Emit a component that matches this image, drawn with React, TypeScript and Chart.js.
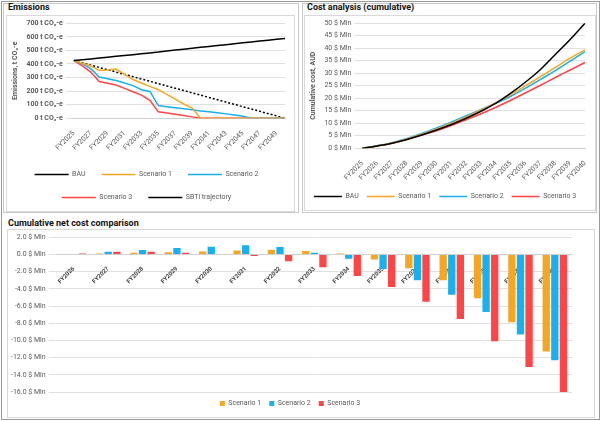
import React, { useEffect, useRef } from "react";
import { Chart, registerables } from "chart.js";
Chart.register(...registerables);

const emYears = Array.from({ length: 26 }, (_, i) => "FY" + (2025 + i));
const emBAU = [425,431,437,443,450,456,462,468,475,481,487,495,502,508,515,522,529,535,542,549,556,562,569,575,582,588];
const emS1 = [425,405,385,352,355,362,323,285,260,235,210,175,140,105,75,0,0,0,0,0,0,0,0,0,0,0];
const emS2 = [425,400,365,303,290,278,260,240,210,197,93,85,78,70,62,54,47,40,32,24,14,0,0,0,0,0];
const emS3 = [425,385,340,270,258,245,220,195,170,132,47,38,30,20,10,0,0,0,0,0,0,0,0,0,0,0];
const emSBTi = [425,408,391,374,357,340,323,306,289,272,255,238,221,204,187,170,153,136,119,102,85,68,51,34,17,0];

const costYears = Array.from({ length: 16 }, (_, i) => "FY" + (2025 + i));
const costBAU = [0,0.9,2,3.5,5.3,7.3,9.5,12,14.8,18,22,26.5,31.5,37.5,43.5,50];
const costS1 = [0,0.9,2.1,3.7,5.6,7.7,10,12.5,15.3,18.2,21.5,25,28.6,32.3,36,39.3];
const costS2 = [0,1,2.2,3.9,5.9,8.1,10.5,13,15.5,18,20.8,24,27.5,31,34.8,38.6];
const costS3 = [0,0.9,2,3.5,5.2,7,9.1,11.4,13.8,16.4,19.2,22.2,25.2,28.3,31.3,34.3];

const netYears = Array.from({ length: 15 }, (_, i) => "FY" + (2026 + i));
const netS1 = [0.05,0.1,0.2,0.25,0.35,0.45,0.55,0.4,0.1,-0.6,-1.6,-3.0,-5.1,-7.9,-11.3];
const netS2 = [0.05,0.3,0.5,0.75,0.9,1.05,0.85,0.2,-0.5,-1.7,-3.0,-4.7,-6.7,-9.3,-12.3];
const netS3 = [0.1,0.3,0.3,0.2,0.0,-0.2,-0.8,-1.5,-2.5,-3.8,-5.5,-7.5,-10.1,-13.1,-16.0];

const BLACK = "#000000", ORANGE = "#F5A623", BLUE = "#18B0EE", RED = "#FF4545";
const FONT = "Roboto";
const GRID = "#e0e0e0";
const TICK = "#595959";

function lineDs(label: string, data: number[], color: string, extra: any = {}) {
  return { label, data, borderColor: color, backgroundColor: color, borderWidth: 1.5, pointRadius: 0, ...extra };
}

function useChart(ref: any, cfg: () => any) {
  useEffect(() => {
    const c = new Chart(ref.current, cfg());
    return () => c.destroy();
  }, []);
}

const xRot = { maxRotation: 45, minRotation: 45, color: TICK, font: { family: FONT, size: 7 } };

export default function App() {
  const r1 = useRef<HTMLCanvasElement>(null);
  const r2 = useRef<HTMLCanvasElement>(null);
  const r3 = useRef<HTMLCanvasElement>(null);

  useChart(r1, () => ({
    type: "line",
    data: {
      labels: emYears,
      datasets: [
        lineDs("BAU", emBAU, BLACK),
        lineDs("Scenario 1", emS1, ORANGE),
        lineDs("Scenario 2", emS2, BLUE),
        lineDs("Scenario 3", emS3, RED),
        lineDs("SBTi trajectory", emSBTi, BLACK, { borderDash: [2, 2], borderWidth: 1.5 }),
      ],
    },
    options: {
      animation: false, responsive: false, maintainAspectRatio: false,
      layout: { padding: { right: 8, top: 2 } },
      plugins: {
        legend: { position: "bottom", labels: { usePointStyle: true, pointStyle: "line", pointStyleWidth: 34, boxHeight: 4, padding: 16, color: TICK, font: { family: FONT, size: 7 } } },
        tooltip: { enabled: false },
      },
      scales: {
        x: { grid: { display: false }, border: { color: "#d0d0d0" }, ticks: { ...xRot, autoSkip: false, callback: (v: any, i: number) => (i % 2 === 0 ? emYears[i] : "") } },
        y: {
          min: 0, max: 700, grid: { color: GRID }, border: { display: false },
          ticks: { stepSize: 100, color: TICK, font: { family: FONT, size: 7, weight: "bold" }, callback: (v: any) => v + " t CO₂-e" },
          title: { display: true, text: "Emissions, t CO₂-e", color: TICK, font: { family: FONT, size: 7, weight: "bold" } },
        },
      },
    },
  }));

  useChart(r2, () => ({
    type: "line",
    data: {
      labels: costYears,
      datasets: [
        lineDs("BAU", costBAU, BLACK, { tension: 0.4 }),
        lineDs("Scenario 1", costS1, ORANGE, { tension: 0.4 }),
        lineDs("Scenario 2", costS2, BLUE, { tension: 0.4 }),
        lineDs("Scenario 3", costS3, RED, { tension: 0.4 }),
      ],
    },
    options: {
      animation: false, responsive: false, maintainAspectRatio: false,
      layout: { padding: { right: 10, top: 2 } },
      plugins: {
        legend: { position: "bottom", labels: { usePointStyle: true, pointStyle: "line", pointStyleWidth: 28, boxHeight: 4, padding: 8, color: TICK, font: { family: FONT, size: 7 } } },
        tooltip: { enabled: false },
      },
      scales: {
        x: { grid: { display: false }, border: { color: "#d0d0d0" }, ticks: { ...xRot, autoSkip: false } },
        y: {
          min: 0, max: 50, grid: { color: GRID }, border: { display: false },
          ticks: { stepSize: 5, color: TICK, font: { family: FONT, size: 7 }, callback: (v: any) => v + " $ Mln" },
          title: { display: true, text: "Cumulative cost, AUD", color: TICK, font: { family: FONT, size: 7, weight: "bold" } },
        },
      },
    },
  }));

  useChart(r3, () => ({
    type: "bar",
    data: {
      labels: netYears,
      datasets: [
        { label: "Scenario 1", data: netS1, backgroundColor: ORANGE },
        { label: "Scenario 2", data: netS2, backgroundColor: BLUE },
        { label: "Scenario 3", data: netS3, backgroundColor: RED },
      ],
    },
    options: {
      animation: false, responsive: false, maintainAspectRatio: false,
      datasets: { bar: { categoryPercentage: 0.75, barPercentage: 0.85 } },
      layout: { padding: { right: 22, top: 4 } },
      plugins: {
        legend: { position: "bottom", labels: { boxWidth: 5, boxHeight: 5, padding: 8, color: TICK, font: { family: FONT, size: 7 } } },
        tooltip: { enabled: false },
      },
      scales: {
        x: {
          position: { y: 0 }, grid: { display: false }, border: { color: "#d0d0d0" },
          ticks: { maxRotation: 45, minRotation: 45, color: "#404040", font: { family: FONT, size: 6, weight: "bold" }, autoSkip: false },
        },
        y: {
          min: -16, max: 2, grid: { color: GRID }, border: { display: false },
          ticks: { stepSize: 2, color: TICK, font: { family: FONT, size: 7 }, callback: (v: any) => Number(v).toFixed(1) + " $ Mln" },
        },
      },
    },
  }));

  const title: React.CSSProperties = { position: "absolute", fontFamily: FONT, fontWeight: 700, fontSize: 9, color: "#111" };
  const box: React.CSSProperties = { position: "absolute", border: "1px solid #d9d9d9", background: "#fff" };
  return (
    <div style={{ position: "fixed", left: 0, top: 0, width: 601, height: 421, background: "#fff" }}>
      <div style={{ position: "absolute", left: 1, top: 1, width: 597, height: 417, border: "1px solid #9a9a9a" }} />
      <div style={{ position: "absolute", left: 3, top: 3, width: 294, height: 208, border: "1px solid #c8c8c8" }} />
      <div style={{ position: "absolute", left: 302, top: 3, width: 293, height: 208, border: "1px solid #c8c8c8" }} />
      <div style={{ ...title, left: 8, top: 2 }}>Emissions</div>
      <div style={{ ...title, left: 307, top: 2 }}>Cost analysis (cumulative)</div>
      <div style={{ ...title, left: 8, top: 218 }}>Cumulative net cost comparison</div>
      <div style={{ ...box, left: 6, top: 15, width: 287, height: 195 }}>
        <canvas ref={r1} width={287} height={195} />
      </div>
      <div style={{ ...box, left: 304, top: 15, width: 290, height: 194 }}>
        <canvas ref={r2} width={290} height={194} />
      </div>
      <div style={{ ...box, left: 7, top: 229, width: 586, height: 187 }}>
        <canvas ref={r3} width={586} height={187} />
      </div>
    </div>
  );
}
